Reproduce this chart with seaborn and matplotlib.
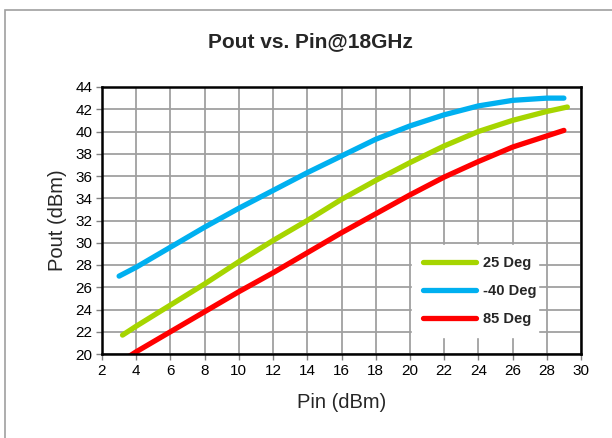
import matplotlib
matplotlib.use("Agg")
import matplotlib.pyplot as plt
import seaborn as sns
import pandas as pd
from matplotlib.patches import Rectangle

pin_25 = [3.2, 4, 6, 8, 10, 12, 14, 16, 18, 20, 22, 24, 26, 28, 29.2]
pout_25 = [21.7, 22.5, 24.4, 26.3, 28.3, 30.2, 32.0, 33.9, 35.6, 37.2, 38.7, 40.0, 41.0, 41.8, 42.2]

pin_m40 = [3.0, 4, 6, 8, 10, 12, 14, 16, 18, 20, 22, 24, 26, 28, 29.0]
pout_m40 = [27.0, 27.8, 29.6, 31.4, 33.1, 34.7, 36.3, 37.8, 39.3, 40.5, 41.5, 42.3, 42.8, 43.0, 43.0]

pin_85 = [3.5, 4, 6, 8, 10, 12, 14, 16, 18, 20, 22, 24, 26, 28, 29.0]
pout_85 = [19.7, 20.2, 22.0, 23.8, 25.6, 27.3, 29.1, 30.9, 32.6, 34.3, 35.9, 37.3, 38.6, 39.6, 40.1]

series_names = ["25 Deg", "-40 Deg", "85 Deg"]
series_colors = ["#a6d500", "#00b0f0", "#ff0000"]

frames = []
for name, xs, ys in zip(series_names, [pin_25, pin_m40, pin_85], [pout_25, pout_m40, pout_85]):
    frames.append(pd.DataFrame({"Pin": xs, "Pout": ys, "Series": name}))
df = pd.concat(frames, ignore_index=True)

sns.set_theme(style="white")
plt.rcParams["font.family"] = ["Liberation Sans", "DejaVu Sans"]

fig = plt.figure(figsize=(6.12, 4.38), dpi=100)
ax = fig.add_axes([102/612, 1-354/438, 479/612, 267/438])

sns.lineplot(data=df, x="Pin", y="Pout", hue="Series", hue_order=series_names,
             palette=dict(zip(series_names, series_colors)), linewidth=3.8,
             sort=False, ax=ax)

ax.set_xlim(2, 30)
ax.set_ylim(20, 44)
ax.set_xticks(range(2, 31, 2))
ax.set_yticks(range(20, 45, 2))
ax.grid(True, color="#a0a0a0", linewidth=1.3)
ax.set_axisbelow(True)
for s in ax.spines.values():
    s.set_color("black")
    s.set_linewidth(1.8)
ax.tick_params(axis="both", labelsize=11, labelcolor="black", color="#808080",
               length=4, width=1, direction="out", bottom=True, left=True, pad=3)
ax.set_xlabel("Pin (dBm)", fontsize=14.5, labelpad=11)
ax.set_ylabel("Pout (dBm)", fontsize=14.5, labelpad=6)
for line in ax.get_lines():
    line.set_solid_capstyle("round")

leg = ax.legend(loc="lower left", bbox_to_anchor=(0.633, 0.038, 0.292, 0.337), mode="expand",
                frameon=True, fancybox=False, framealpha=1, edgecolor="white",
                prop={"weight": "bold", "size": 10.5}, handlelength=3.6, handletextpad=0.5,
                labelspacing=0.95, borderpad=0.75, title=None)
for h in leg.get_lines():
    h.set_linewidth(3.8)
    h.set_solid_capstyle("round")

fig.text(310/612, 1-42/438, "Pout vs. Pin@18GHz", ha="center", va="center",
         fontsize=15, fontweight="bold")

fig.patches.append(Rectangle((5/612, -0.1), 1.2, 1-10/438+0.1, transform=fig.transFigure,
                             fill=False, edgecolor="#a0a0a0", linewidth=1.2))

fig.savefig("out.png", dpi=100)
